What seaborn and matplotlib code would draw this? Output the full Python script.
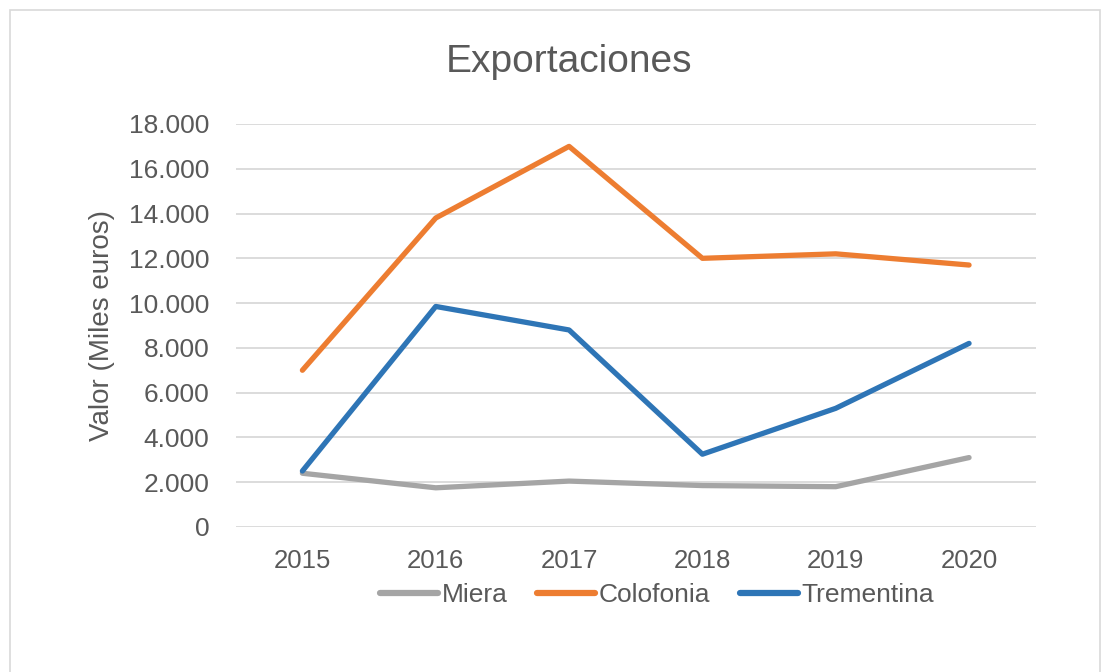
import pandas as pd
import matplotlib.pyplot as plt
import seaborn as sns
from matplotlib.patches import Rectangle
from matplotlib.ticker import FuncFormatter

# Data (miles euros)
years = [2015, 2016, 2017, 2018, 2019, 2020]
miera = [2400, 1750, 2050, 1850, 1800, 3100]
colofonia = [7000, 13800, 17000, 12000, 12200, 11700]
trementina = [2500, 9850, 8800, 3250, 5300, 8200]

series_names = ["Miera", "Colofonia", "Trementina"]
series_colors = ["#A5A5A5", "#ED7D31", "#2E75B6"]


def main():
    df = pd.DataFrame({
        "year": years * 3,
        "valor": miera + colofonia + trementina,
        "serie": [n for n in series_names for _ in years],
    })

    sns.set_theme(style="white")
    plt.rcParams["font.family"] = ["Liberation Sans", "DejaVu Sans"]
    text_color = "#595959"

    fig = plt.figure(figsize=(11.12, 6.72), dpi=100)
    ax = fig.add_axes([0.212, 0.2158, 0.7194, 0.5997])

    sns.lineplot(data=df, x="year", y="valor", hue="serie",
                 hue_order=series_names, palette=series_colors,
                 linewidth=3.8, ax=ax, legend=True)
    for line in ax.lines:
        line.set_solid_capstyle("round")
        line.set_solid_joinstyle("round")

    ax.set_xlim(2014.5, 2020.5)
    ax.set_ylim(0, 18000)
    ax.set_xticks(years)
    ax.set_yticks(range(0, 18001, 2000))
    ax.yaxis.set_major_formatter(
        FuncFormatter(lambda v, _: f"{int(v):,}".replace(",", ".")))
    ax.grid(axis="y", color="#D9D9D9", linewidth=1.3)
    ax.set_axisbelow(True)
    for s in ax.spines.values():
        s.set_visible(False)
    ax.tick_params(axis="y", length=0, pad=19, labelsize=19, labelcolor=text_color)
    ax.tick_params(axis="x", length=0, pad=16, labelsize=18.5, labelcolor=text_color)

    ax.set_xlabel("")
    ax.set_ylabel("Valor (Miles euros)", fontsize=20, color=text_color, labelpad=10)
    fig.text(0.512, 0.907, "Exportaciones", ha="center", va="center",
             fontsize=28, color=text_color)

    handles, labels = ax.get_legend_handles_labels()
    ax.legend_.remove()
    leg = fig.legend(handles, labels, loc="center", bbox_to_anchor=(0.591, 0.1146),
                     ncol=3, frameon=False, fontsize=19, handlelength=2.2,
                     handletextpad=0.15, columnspacing=1.1, labelcolor=text_color)
    for h in leg.legend_handles:
        h.set_linewidth(4.5)
        h.set_solid_capstyle("round")

    # light frame around the chart area
    fig.patches.append(Rectangle((10 / 1112, -0.01), 1090 / 1112, 0.995,
                                 transform=fig.transFigure, fill=False,
                                 edgecolor="#D9D9D9", linewidth=1.2))

    fig.savefig("out.png", dpi=100)


if __name__ == "__main__":
    main()
